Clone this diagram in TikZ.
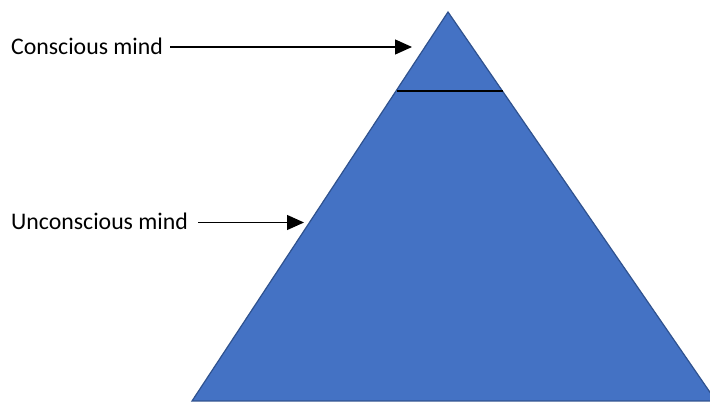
\documentclass[tikz,border=0pt]{standalone}
\usepackage{fontspec}
\setmainfont{Carlito}
\usetikzlibrary{arrows.meta}
\definecolor{tri}{HTML}{4472C4}
\definecolor{triedge}{HTML}{2F528F}
\begin{document}
\begin{tikzpicture}[x=1pt,y=-1pt,
  lbl/.style={anchor=west,inner sep=0pt,font=\fontsize{23.8}{26}\selectfont},
  pointer/.style={-{Triangle[length=17pt,width=15pt]},line width=1.3pt}]
\useasboundingbox (0,0) rectangle (710,403);
\begin{scope}
\clip (0,0) rectangle (710,403);
\fill[tri,draw=triedge,line width=1.2pt,line join=miter] (448,12) -- (716,401) -- (192,401) -- cycle;
\end{scope}
\coordinate (apex) at (448,12);
\coordinate (ll) at (396.5,91);
\coordinate (lr) at (502.5,91);
\draw[line width=1.1pt] (ll) -- (lr);
\node[lbl] (cm) at (11,46) {Conscious mind};
\node[lbl] (um) at (11,221) {Unconscious mind};
\coordinate (t1) at (412,47);
\coordinate (t2) at (304,222.5);
\draw[pointer] ([xshift=7pt]cm.east |- t1) -- (t1);
\draw[pointer] ([xshift=10pt]um.east |- t2) -- (t2);
\end{tikzpicture}
\end{document}
